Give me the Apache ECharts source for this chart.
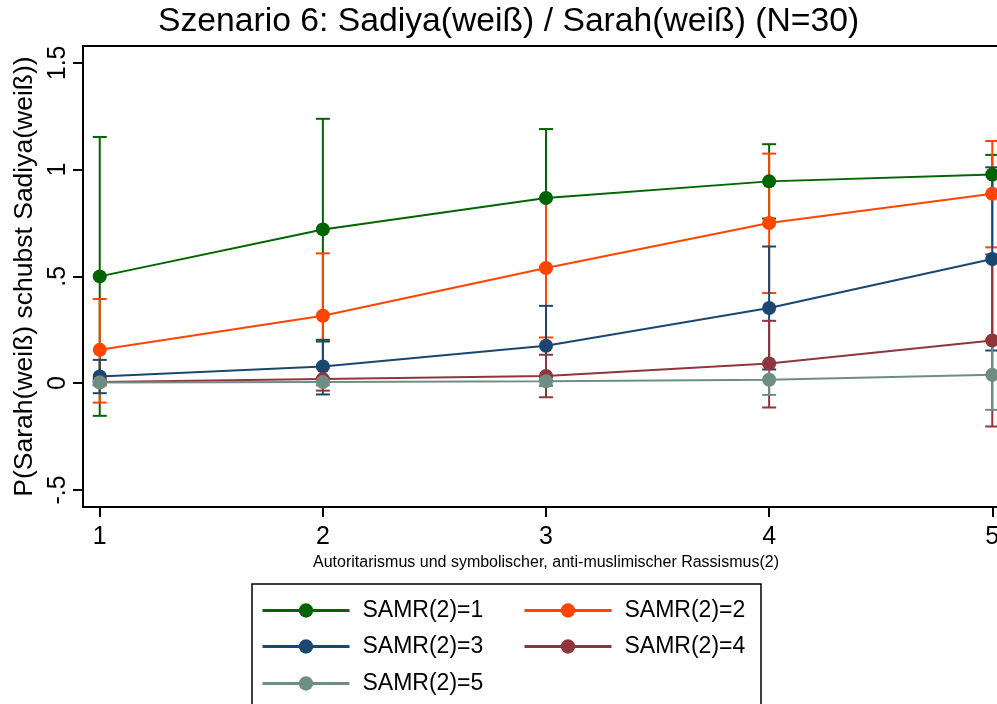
<!DOCTYPE html>
<html>
<head>
<meta charset="utf-8">
<script src="https://cdn.jsdelivr.net/npm/echarts@6/dist/echarts.min.js"></script>
<style>
  html, body { margin: 0; padding: 0; background: #fff; }
  #chart { width: 997px; height: 704px; }
</style>
</head>
<body>
<div id="chart"></div>
<script>
// x positions (Autoritarismus ... (2))
const xValues = [1, 2, 3, 4, 5];
const yTicks = [-0.5, 0, 0.5, 1, 1.5];

const names = ['SAMR(2)=1', 'SAMR(2)=2', 'SAMR(2)=3', 'SAMR(2)=4', 'SAMR(2)=5'];
const colors = ['#006400', '#ff4500', '#1a476f', '#90353b', '#6e8e84'];

// point estimates
const est1 = [0.50, 0.72, 0.867, 0.945, 0.977];
const est2 = [0.156, 0.316, 0.539, 0.75, 0.887];
const est3 = [0.031, 0.078, 0.175, 0.352, 0.581];
const est4 = [0.005, 0.019, 0.034, 0.092, 0.20];
const est5 = [0.003, 0.005, 0.009, 0.016, 0.039];

// confidence intervals, lower and upper
const lo1 = [-0.153, 0.195, 0.544, 0.771, 0.885];
const hi1 = [1.153, 1.238, 1.19, 1.119, 1.069];
const lo2 = [-0.091, 0.024, 0.214, 0.422, 0.636];
const hi2 = [0.394, 0.608, 0.864, 1.075, 1.134];
const lo3 = [-0.047, -0.053, -0.012, 0.064, 0.153];
const hi3 = [0.109, 0.203, 0.362, 0.640, 1.011];
const lo4 = [-0.01, -0.035, -0.066, -0.114, -0.203];
const hi4 = [0.02, 0.073, 0.133, 0.292, 0.603];
const lo5 = [-0.005, -0.01, -0.012, -0.055, -0.125];
const hi5 = [0.011, 0.02, 0.03, 0.087, 0.203];

const estimates = [est1, est2, est3, est4, est5];
const lows = [lo1, lo2, lo3, lo4, lo5];
const highs = [hi1, hi2, hi3, hi4, hi5];

const FONT = 'Liberation Sans, Arial, sans-serif';

function capRender(color) {
  return function (params, api) {
    const x = api.value(0);
    const p1 = api.coord([x, api.value(1)]);
    const p2 = api.coord([x, api.value(2)]);
    const w = 7;
    const style = { stroke: color, lineWidth: 2 };
    return {
      type: 'group',
      children: [
        { type: 'line', shape: { x1: p1[0], y1: p1[1], x2: p2[0], y2: p2[1] }, style: style },
        { type: 'line', shape: { x1: p1[0] - w, y1: p1[1], x2: p1[0] + w, y2: p1[1] }, style: style },
        { type: 'line', shape: { x1: p2[0] - w, y1: p2[1], x2: p2[0] + w, y2: p2[1] }, style: style }
      ]
    };
  };
}

const series = [];
names.forEach(function (n, i) {
  series.push({
    name: n + ' ci',
    type: 'custom',
    renderItem: capRender(colors[i]),
    data: xValues.map(function (x, k) { return [x, lows[i][k], highs[i][k]]; }),
    z: 2,
    silent: true
  });
});
names.forEach(function (n, i) {
  series.push({
    name: n,
    type: 'line',
    data: xValues.map(function (x, k) { return [x, estimates[i][k]]; }),
    symbol: 'circle',
    symbolSize: 14,
    showSymbol: true,
    lineStyle: { color: colors[i], width: 2 },
    itemStyle: { color: colors[i] },
    z: 3 + i
  });
});

// one legend per entry, laid out as two columns
const legendPos = [
  [261, 599], [523, 599],
  [261, 635], [523, 635],
  [261, 672]
];
const legends = names.map(function (n, i) {
  return {
    data: [n],
    left: legendPos[i][0],
    top: legendPos[i][1],
    padding: 0,
    itemWidth: 87,
    itemHeight: 18,
    selectedMode: false,
    lineStyle: { width: 3 },
    textStyle: { fontFamily: FONT, fontSize: 23, color: '#000', padding: [0, 0, 0, 8] }
  };
});

const chart = echarts.init(document.getElementById('chart'));
chart.setOption({
  animation: false,
  backgroundColor: '#fff',
  title: {
    text: 'Szenario 6: Sadiya(weiß) / Sarah(weiß) (N=30)',
    left: 158,
    top: 5,
    padding: 0,
    textStyle: { fontFamily: FONT, fontSize: 33.7, fontWeight: 'normal', color: '#000' }
  },
  legend: legends,
  grid: {
    left: 83,
    width: 926,
    top: 46,
    bottom: 197,
    show: true,
    borderColor: '#000',
    borderWidth: 2,
    containLabel: false,
    outerBoundsMode: 'none'
  },
  xAxis: {
    type: 'value',
    min: 0.925,
    max: 5.075,
    name: 'Autoritarismus und symbolischer, anti-muslimischer Rassismus(2)',
    nameLocation: 'middle',
    nameGap: 44,
    nameTextStyle: { fontFamily: FONT, fontSize: 16, color: '#000' },
    axisLine: { onZero: false, lineStyle: { color: '#000', width: 2 } },
    axisTick: { show: true, length: 10, lineStyle: { color: '#000', width: 2 }, customValues: xValues },
    axisLabel: { fontFamily: FONT, fontSize: 25, color: '#000', margin: 18, customValues: xValues },
    splitLine: { show: false }
  },
  yAxis: {
    type: 'value',
    min: -0.58,
    max: 1.579,
    name: 'P(Sarah(weiß) schubst Sadiya(weiß))',
    nameLocation: 'middle',
    nameRotate: 90,
    nameGap: 40,
    nameTextStyle: { fontFamily: FONT, fontSize: 26.5, color: '#000' },
    axisLine: { show: true, onZero: false, lineStyle: { color: '#000', width: 2 } },
    axisTick: { show: true, length: 10, lineStyle: { color: '#000', width: 2 }, customValues: yTicks },
    axisLabel: {
      fontFamily: FONT, fontSize: 25, color: '#000', rotate: 90, margin: 12,
      customValues: yTicks,
      formatter: function (v) { return String(v).replace('0.', '.'); }
    },
    splitLine: { show: false }
  },
  graphic: [{
    type: 'rect',
    shape: { x: 252, y: 584, width: 509, height: 140 },
    style: { fill: 'none', stroke: '#000', lineWidth: 1.5 },
    z: 1
  }],
  series: series
});
</script>
</body>
</html>
